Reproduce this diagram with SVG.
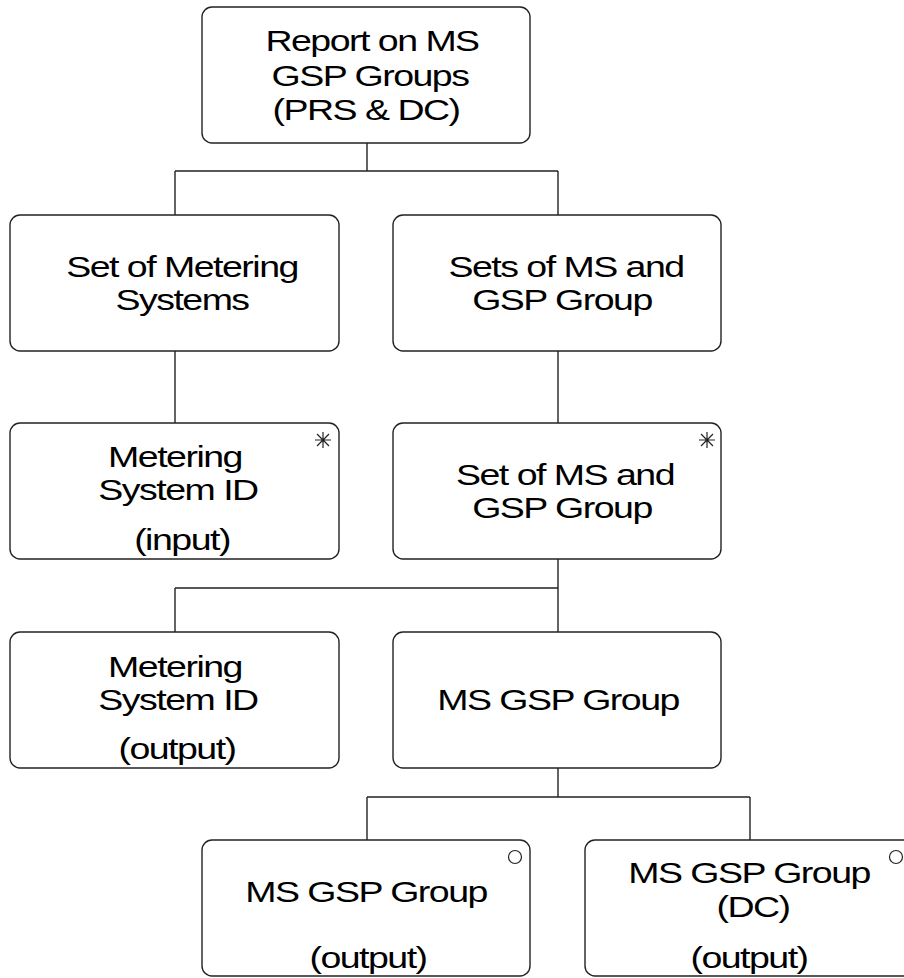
<svg xmlns="http://www.w3.org/2000/svg" width="904" height="978" viewBox="0 0 904 978">
<style>
.box{fill:#fff;stroke:#222;stroke-width:1.4}
.t{font-family:"Liberation Sans",Arial,sans-serif;font-size:30px;fill:#000;text-anchor:middle;letter-spacing:-1.2px}
.c{stroke:#222;stroke-width:1.4;fill:none}
.m{stroke:#222;stroke-width:1.2;fill:none}
</style>
<defs>
<g id="star"><path class="m" d="M-8,0H8M0,-8V8M-6,-6L6,6M6,-6L-6,6"/></g>
</defs>
<rect width="904" height="978" fill="#fff"/>
<g id="connectors">
<path class="c" d="M367,143V171M175,171H558M175,171V215M558,171V215"/>
<path class="c" d="M175,351V423M558,351V423"/>
<path class="c" d="M558,559V632M175,588H558M175,588V632"/>
<path class="c" d="M558,768V797M367,797H750M367,797V840M750,797V840"/>
</g>
<g id="n-report">
<rect class="box" x="202" y="7" width="328" height="136" rx="10"/>
<text class="t" transform="translate(372,51) scale(1.25,1)">Report on MS</text>
<text class="t" transform="translate(370,86) scale(1.25,1)">GSP Groups</text>
<text class="t" transform="translate(366,120) scale(1.25,1)">(PRS &amp; DC)</text>
</g>
<g id="n-setms">
<rect class="box" x="10" y="215" width="329" height="136" rx="10"/>
<text class="t" transform="translate(182,277) scale(1.25,1)">Set of Metering</text>
<text class="t" transform="translate(182,310) scale(1.25,1)">Systems</text>
</g>
<g id="n-setsmsgsp">
<rect class="box" x="393" y="215" width="328" height="136" rx="10"/>
<text class="t" transform="translate(566,277) scale(1.25,1)">Sets of MS and</text>
<text class="t" transform="translate(562,310) scale(1.25,1)">GSP Group</text>
</g>
<g id="n-msid-input">
<rect class="box" x="10" y="423" width="329" height="136" rx="10"/>
<use href="#star" x="323" y="440"/>
<text class="t" transform="translate(175,467) scale(1.25,1)">Metering</text>
<text class="t" transform="translate(178,500) scale(1.25,1)">System ID</text>
<text class="t" transform="translate(182,550) scale(1.25,1)">(input)</text>
</g>
<g id="n-setmsgsp">
<rect class="box" x="393" y="423" width="328" height="136" rx="10"/>
<use href="#star" x="707" y="440"/>
<text class="t" transform="translate(565,485) scale(1.25,1)">Set of MS and</text>
<text class="t" transform="translate(562,518) scale(1.25,1)">GSP Group</text>
</g>
<g id="n-msid-output">
<rect class="box" x="10" y="632" width="329" height="136" rx="10"/>
<text class="t" transform="translate(175,677) scale(1.25,1)">Metering</text>
<text class="t" transform="translate(178,710) scale(1.25,1)">System ID</text>
<text class="t" transform="translate(177,759) scale(1.25,1)">(output)</text>
</g>
<g id="n-msgsp">
<rect class="box" x="393" y="632" width="328" height="136" rx="10"/>
<text class="t" transform="translate(558,710) scale(1.25,1)">MS GSP Group</text>
</g>
<g id="n-msgsp-out">
<rect class="box" x="202" y="840" width="328" height="136" rx="10"/>
<circle class="m" cx="515" cy="857" r="6.5"/>
<text class="t" transform="translate(366,902) scale(1.25,1)">MS GSP Group</text>
<text class="t" transform="translate(368,968) scale(1.25,1)">(output)</text>
</g>
<g id="n-msgspdc-out">
<rect class="box" x="585" y="840" width="328" height="136" rx="10"/>
<circle class="m" cx="896" cy="857" r="6.5"/>
<text class="t" transform="translate(749,883) scale(1.25,1)">MS GSP Group</text>
<text class="t" transform="translate(753,917) scale(1.25,1)">(DC)</text>
<text class="t" transform="translate(749,968) scale(1.25,1)">(output)</text>
</g>
</svg>
